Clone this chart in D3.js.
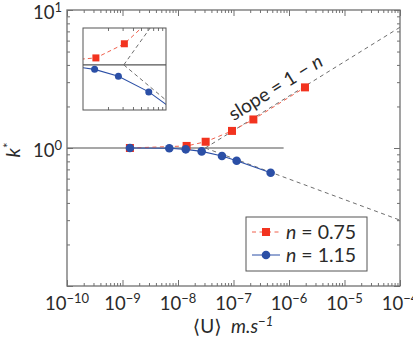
<!DOCTYPE html>
<html>
<head>
<meta charset="utf-8">
<script src="https://cdn.jsdelivr.net/npm/d3@7"></script>
<style>
  body { margin: 0; background: #fff; }
  svg { display: block; }
</style>
</head>
<body>
<svg id="chart" width="413" height="339"></svg>
<script>
// data
var uRed = [1.36e-9, 1.43e-8, 3.15e-8, 9.4e-8, 2.28e-7, 1.94e-6];
var kRed = [1.0, 1.035, 1.11, 1.33, 1.61, 2.75];
var uBlue = [1.36e-9, 6.97e-9, 1.38e-8, 2.67e-8, 6.2e-8, 1.14e-7, 4.67e-7];
var kBlue = [1.0, 0.995, 0.978, 0.945, 0.875, 0.809, 0.662];

// asymptotes (slope = 1 - n) and the k* = 1 reference
var asymU = [3.1e-8, 1e-4];
var asymRedK = [1, 7.5];
var asymBlueK = [1, 0.30];
var refU = [1e-10, 8e-7];
var refK = [1, 1];

var xTickExp = [-10, -9, -8, -7, -6, -5, -4];
var yTickExp = [0, 1];
var legendLabels = ["0.75", "1.15"];

const FONT = "Lato, 'DejaVu Sans', sans-serif";
const RED = "#f2331f";
const RED_LINE = "#f0604d";
const BLUE = "#2b4fa6";
const GREY = "#6e6e6e";
const TXT = "#2a2a2a";

var svg = d3.select("#chart");

var margin = {left: 67, right: 400, top: 10, bottom: 286};

var x = d3.scaleLog().domain([1e-10, 1e-4]).range([margin.left, margin.right]);
var y = d3.scaleLog().domain([0.1, 10]).range([margin.bottom, margin.top]);

function zip(us, ks) {
    return us.map(function (u, i) { return {u: u, k: ks[i]}; });
}

function decadeTicks(lo, hi) {
    var major = [], minor = [];
    for (var e = lo; e <= hi; e++) {
        major.push(Math.pow(10, e));
        if (e < hi) for (var m = 2; m <= 9; m++) minor.push(m * Math.pow(10, e));
    }
    return {major: major, minor: minor};
}

// clip for the main plot area
svg.append("clipPath").attr("id", "clipMain")
    .append("rect")
    .attr("x", margin.left).attr("y", margin.top)
    .attr("width", margin.right - margin.left).attr("height", margin.bottom - margin.top);

var plot = svg.append("g").attr("clip-path", "url(#clipMain)");

var line = d3.line().x(function (d) { return x(d.u); }).y(function (d) { return y(d.k); });

plot.append("path").datum(zip(refU, refK))
    .attr("d", line).attr("fill", "none").attr("stroke", "#8a8a8a").attr("stroke-width", 1.5);

plot.append("path").datum(zip(asymU, asymRedK))
    .attr("d", line).attr("fill", "none").attr("stroke", GREY).attr("stroke-width", 1)
    .attr("stroke-dasharray", "4,3.5");
plot.append("path").datum(zip(asymU, asymBlueK))
    .attr("d", line).attr("fill", "none").attr("stroke", GREY).attr("stroke-width", 1)
    .attr("stroke-dasharray", "4,3.5");

plot.append("path").datum(zip(uRed, kRed))
    .attr("d", line).attr("fill", "none").attr("stroke", RED_LINE).attr("stroke-width", 1)
    .attr("stroke-dasharray", "4,3.5");
plot.append("path").datum(zip(uBlue, kBlue))
    .attr("d", line).attr("fill", "none").attr("stroke", BLUE).attr("stroke-width", 1.1);

plot.selectAll(".sq").data(zip(uRed, kRed)).enter().append("rect")
    .attr("x", function (d) { return x(d.u) - 4; })
    .attr("y", function (d) { return y(d.k) - 4; })
    .attr("width", 8).attr("height", 8)
    .attr("fill", RED);

plot.selectAll(".dot").data(zip(uBlue, kBlue)).enter().append("circle")
    .attr("cx", function (d) { return x(d.u); })
    .attr("cy", function (d) { return y(d.k); })
    .attr("r", 4.3)
    .attr("fill", BLUE);

// axes: ticks inward on all four sides
var xt = decadeTicks(-10, -4);
var yt = decadeTicks(-1, 1);
var axisCol = "#707070";

function styleAxis(g) {
    g.select(".domain").remove();
    g.selectAll("line").attr("stroke", axisCol).attr("stroke-width", 1);
}

svg.append("g").attr("transform", "translate(0," + margin.bottom + ")")
    .call(d3.axisBottom(x).tickValues(xt.major).tickSize(-6).tickFormat("")).call(styleAxis);
svg.append("g").attr("transform", "translate(0," + margin.bottom + ")")
    .call(d3.axisBottom(x).tickValues(xt.minor).tickSize(-3).tickFormat("")).call(styleAxis);
svg.append("g").attr("transform", "translate(0," + margin.top + ")")
    .call(d3.axisTop(x).tickValues(xt.major).tickSize(-6).tickFormat("")).call(styleAxis);
svg.append("g").attr("transform", "translate(0," + margin.top + ")")
    .call(d3.axisTop(x).tickValues(xt.minor).tickSize(-3).tickFormat("")).call(styleAxis);
svg.append("g").attr("transform", "translate(" + margin.left + ",0)")
    .call(d3.axisLeft(y).tickValues(yt.major).tickSize(-6).tickFormat("")).call(styleAxis);
svg.append("g").attr("transform", "translate(" + margin.left + ",0)")
    .call(d3.axisLeft(y).tickValues(yt.minor).tickSize(-3).tickFormat("")).call(styleAxis);
svg.append("g").attr("transform", "translate(" + margin.right + ",0)")
    .call(d3.axisRight(y).tickValues(yt.major).tickSize(-6).tickFormat("")).call(styleAxis);
svg.append("g").attr("transform", "translate(" + margin.right + ",0)")
    .call(d3.axisRight(y).tickValues(yt.minor).tickSize(-3).tickFormat("")).call(styleAxis);

svg.append("rect")
    .attr("x", margin.left).attr("y", margin.top)
    .attr("width", margin.right - margin.left).attr("height", margin.bottom - margin.top)
    .attr("fill", "none").attr("stroke", axisCol).attr("stroke-width", 1.3);

// tick labels 10^e (the last one runs off the right edge, as in the original)
xTickExp.forEach(function (e) {
    var t = svg.append("text")
        .attr("x", x(Math.pow(10, e))).attr("y", 310)
        .attr("text-anchor", "middle")
        .attr("font-family", FONT).attr("font-size", 18.5).attr("fill", TXT)
        .text("10");
    t.append("tspan").attr("dy", -7).attr("font-size", 13).text("\u2212" + (-e));
});

yTickExp.forEach(function (e) {
    var t = svg.append("text")
        .attr("x", 62).attr("y", y(Math.pow(10, e)) + 8.5)
        .attr("text-anchor", "end")
        .attr("font-family", FONT).attr("font-size", 18.5).attr("fill", TXT)
        .text("10");
    t.append("tspan").attr("dy", -6.5).attr("font-size", 13).text(String(e));
});

// axis titles
var xl = svg.append("text")
    .attr("x", 233).attr("y", 333)
    .attr("text-anchor", "middle")
    .attr("font-family", FONT).attr("font-size", 19).attr("fill", TXT);
xl.append("tspan").text("\u27E8U\u27E9\u2002");
xl.append("tspan").attr("font-style", "italic").text("m.s");
xl.append("tspan").attr("dy", -7).attr("font-size", 13).attr("font-style", "italic").text("\u22121");

var yl = svg.append("text")
    .attr("transform", "translate(20,150) rotate(-90)")
    .attr("text-anchor", "middle")
    .attr("font-family", FONT).attr("font-size", 20).attr("fill", TXT);
yl.append("tspan").attr("font-style", "italic").text("k");
yl.append("tspan").attr("dy", -7).attr("font-size", 13).text("*");

// slope annotation along the red asymptote
var ang = Math.atan2(y(asymRedK[0]) - y(asymRedK[1]), x(asymU[1]) - x(asymU[0])) * 180 / Math.PI;
var st = svg.append("text")
    .attr("transform", "translate(279,93) rotate(" + (-ang) + ")")
    .attr("text-anchor", "middle")
    .attr("font-family", FONT).attr("font-size", 19).attr("fill", TXT);
st.append("tspan").text("slope = 1 \u2212 ");
st.append("tspan").attr("font-style", "italic").text("n");

// inset: zoom on the crossover
var ins = {left: 83, right: 166, top: 28, bottom: 110};
var xi = d3.scaleLog().domain([1e-8, 1e-7]).range([ins.left, ins.right]);
var yi = d3.scaleLog().domain([0.8, 1.2]).range([ins.bottom, ins.top]);
var linei = d3.line().x(function (d) { return xi(d.u); }).y(function (d) { return yi(d.k); });

svg.append("clipPath").attr("id", "clipInset")
    .append("rect")
    .attr("x", ins.left).attr("y", ins.top)
    .attr("width", ins.right - ins.left).attr("height", ins.bottom - ins.top);

svg.append("rect")
    .attr("x", ins.left).attr("y", ins.top)
    .attr("width", ins.right - ins.left).attr("height", ins.bottom - ins.top)
    .attr("fill", "#fff");

var inset = svg.append("g").attr("clip-path", "url(#clipInset)");

inset.append("path").datum(zip(refU, refK))
    .attr("d", linei).attr("fill", "none").attr("stroke", "#555").attr("stroke-width", 1.1);
inset.append("path").datum(zip(asymU, asymRedK))
    .attr("d", linei).attr("fill", "none").attr("stroke", GREY).attr("stroke-width", 1)
    .attr("stroke-dasharray", "4,3");
inset.append("path").datum(zip(asymU, asymBlueK))
    .attr("d", linei).attr("fill", "none").attr("stroke", GREY).attr("stroke-width", 1)
    .attr("stroke-dasharray", "4,3");
inset.append("path").datum(zip(uRed, kRed))
    .attr("d", linei).attr("fill", "none").attr("stroke", RED_LINE).attr("stroke-width", 1)
    .attr("stroke-dasharray", "4,3");
inset.append("path").datum(zip(uBlue, kBlue))
    .attr("d", linei).attr("fill", "none").attr("stroke", BLUE).attr("stroke-width", 1.1);

inset.selectAll(".sq").data(zip(uRed, kRed)).enter().append("rect")
    .attr("x", function (d) { return xi(d.u) - 3.5; })
    .attr("y", function (d) { return yi(d.k) - 3.5; })
    .attr("width", 7).attr("height", 7)
    .attr("fill", RED);
inset.selectAll(".dot").data(zip(uBlue, kBlue)).enter().append("circle")
    .attr("cx", function (d) { return xi(d.u); })
    .attr("cy", function (d) { return yi(d.k); })
    .attr("r", 3.5)
    .attr("fill", BLUE);

var xit = decadeTicks(-8, -7);
svg.append("g").attr("transform", "translate(0," + ins.bottom + ")")
    .call(d3.axisBottom(xi).tickValues(xit.minor).tickSize(-3).tickFormat("")).call(styleAxis);
svg.append("g").attr("transform", "translate(0," + ins.top + ")")
    .call(d3.axisTop(xi).tickValues(xit.minor).tickSize(-3).tickFormat("")).call(styleAxis);

svg.append("rect")
    .attr("x", ins.left).attr("y", ins.top)
    .attr("width", ins.right - ins.left).attr("height", ins.bottom - ins.top)
    .attr("fill", "none").attr("stroke", "#555").attr("stroke-width", 1);

// legend
var lg = svg.append("g");
lg.append("rect")
    .attr("x", 246).attr("y", 217).attr("width", 121).attr("height", 54)
    .attr("fill", "#fff").attr("stroke", "#555").attr("stroke-width", 1);

[0, 1].forEach(function (i) {
    var ly = 232 + i * 23;
    lg.append("line")
        .attr("x1", 252).attr("x2", 280).attr("y1", ly).attr("y2", ly)
        .attr("stroke", i === 0 ? RED_LINE : BLUE)
        .attr("stroke-width", 1)
        .attr("stroke-dasharray", i === 0 ? "4,3.5" : null);
    if (i === 0) {
        lg.append("rect").attr("x", 262).attr("y", ly - 4).attr("width", 8).attr("height", 8).attr("fill", RED);
    } else {
        lg.append("circle").attr("cx", 266).attr("cy", ly).attr("r", 4.3).attr("fill", BLUE);
    }
    var t = lg.append("text")
        .attr("x", 286).attr("y", ly + 7)
        .attr("font-family", FONT).attr("font-size", 19.5).attr("fill", TXT);
    t.append("tspan").attr("font-style", "italic").text("n");
    t.append("tspan").text(" = " + legendLabels[i]);
});
</script>
</body>
</html>
